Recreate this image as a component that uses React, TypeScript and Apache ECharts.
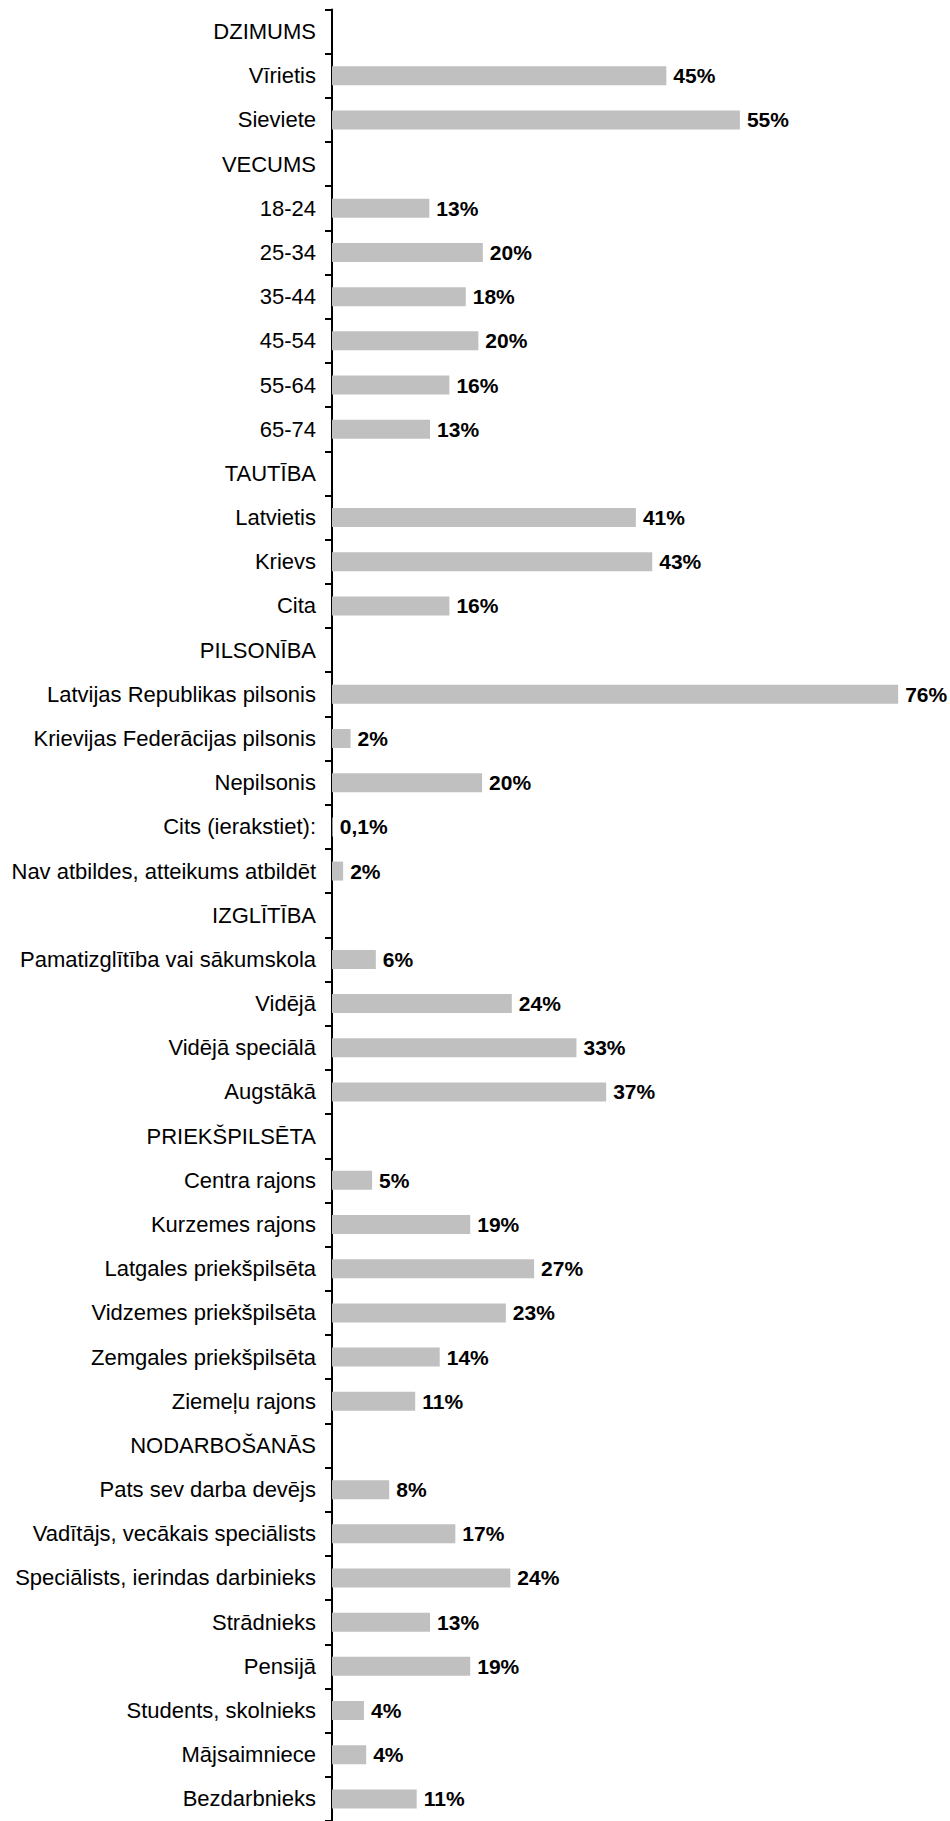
import React, { useEffect, useRef } from "react";
import * as echarts from "echarts";

const categories: string[] = [
  "DZIMUMS", "Vīrietis", "Sieviete",
  "VECUMS", "18-24", "25-34", "35-44", "45-54", "55-64", "65-74",
  "TAUTĪBA", "Latvietis", "Krievs", "Cita",
  "PILSONĪBA", "Latvijas Republikas pilsonis", "Krievijas Federācijas pilsonis", "Nepilsonis", "Cits (ierakstiet):", "Nav atbildes, atteikums atbildēt",
  "IZGLĪTĪBA", "Pamatizglītība vai sākumskola", "Vidējā", "Vidējā speciālā", "Augstākā",
  "PRIEKŠPILSĒTA", "Centra rajons", "Kurzemes rajons", "Latgales priekšpilsēta", "Vidzemes priekšpilsēta", "Zemgales priekšpilsēta", "Ziemeļu rajons",
  "NODARBOŠANĀS", "Pats sev darba devējs", "Vadītājs, vecākais speciālists", "Speciālists, ierindas darbinieks", "Strādnieks", "Pensijā", "Students, skolnieks", "Mājsaimniece", "Bezdarbnieks",
];

// bar lengths (null = section heading row, no bar)
const values: (number | null)[] = [
  null, 45, 54.9,
  null, 13.1, 20.3, 18.0, 19.7, 15.8, 13.2,
  null, 40.9, 43.1, 15.8,
  null, 76.2, 2.5, 20.2, 0.1, 1.5,
  null, 5.9, 24.2, 32.9, 36.9,
  null, 5.4, 18.6, 27.2, 23.4, 14.5, 11.2,
  null, 7.7, 16.6, 24.0, 13.2, 18.6, 4.3, 4.6, 11.4,
];

// value labels as printed on the chart
const valueLabels: string[] = [
  "", "45%", "55%",
  "", "13%", "20%", "18%", "20%", "16%", "13%",
  "", "41%", "43%", "16%",
  "", "76%", "2%", "20%", "0,1%", "2%",
  "", "6%", "24%", "33%", "37%",
  "", "5%", "19%", "27%", "23%", "14%", "11%",
  "", "8%", "17%", "24%", "13%", "19%", "4%", "4%", "11%",
];

const xMax = 80;

export default function App() {
  const ref = useRef<HTMLDivElement>(null);
  useEffect(() => {
    if (!ref.current) return;
    const chart = echarts.init(ref.current, undefined, { renderer: "svg" });
    const font = "'Liberation Sans', Arial, sans-serif";
    chart.setOption({
      animation: false,
      backgroundColor: "#ffffff",
      grid: { left: 332, right: 23.6, top: 9.5, bottom: 0, containLabel: false },
      xAxis: {
        type: "value",
        min: 0,
        max: xMax,
        show: false,
      },
      yAxis: {
        type: "category",
        data: categories,
        inverse: true,
        axisLine: { show: true, lineStyle: { color: "#000", width: 2 } },
        axisTick: { show: true, length: 7, lineStyle: { color: "#000", width: 2 } },
        axisLabel: {
          margin: 16,
          color: "#000",
          fontSize: 22,
          fontFamily: font,
        },
        splitLine: { show: false },
      },
      series: [
        {
          type: "bar",
          data: values.map((v) => (v === null ? "-" : v)),
          barWidth: 19,
          itemStyle: { color: "#c0c0c0" },
          label: {
            show: true,
            position: "right",
            distance: 7,
            color: "#000",
            fontSize: 21,
            fontWeight: "bold",
            fontFamily: font,
            formatter: (p: any) => valueLabels[p.dataIndex] || "",
          },
        },
      ],
    });
    return () => chart.dispose();
  }, []);
  return (
    <div
      ref={ref}
      style={{ position: "absolute", left: 0, top: 0, width: 950, height: 1821 }}
    />
  );
}
